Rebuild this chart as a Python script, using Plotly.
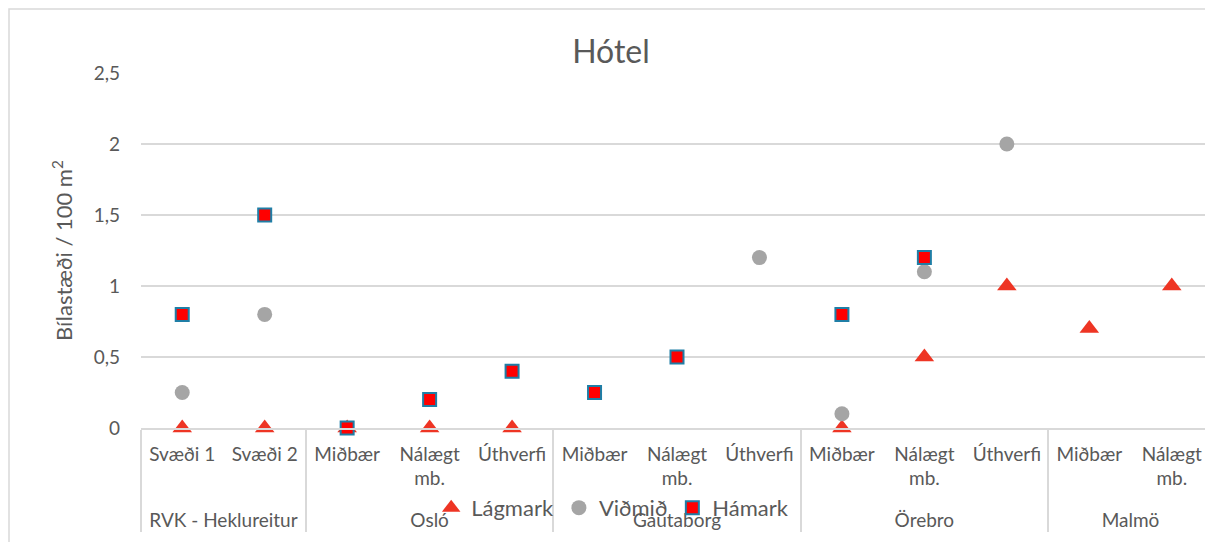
import plotly.graph_objects as go

# categories (outer / inner level)
cities = ["RVK - Heklureitur", "RVK - Heklureitur",
          "Osló", "Osló", "Osló",
          "Gautaborg", "Gautaborg", "Gautaborg",
          "Örebro", "Örebro", "Örebro",
          "Malmö", "Malmö"]
zones = ["Svæði 1", "Svæði 2",
         "Miðbær", "Nálægt<br>mb.", "Úthverfi",
         "Miðbær", "Nálægt<br>mb.", "Úthverfi",
         "Miðbær", "Nálægt<br>mb.", "Úthverfi",
         "Miðbær", "Nálægt<br>mb."]

# series values (bílastæði / 100 m2)
lagmark = [0, 0, 0, 0, 0, None, None, None, 0, 0.5, 1.0, 0.7, 1.0]
vidmid = [0.25, 0.8, None, None, None, None, None, 1.2, 0.1, 1.1, 2.0, None, None]
hamark = [0.8, 1.5, 0, 0.2, 0.4, 0.25, 0.5, None, 0.8, 1.2, None, None, None]

y_ticks = [0, 0.5, 1, 1.5, 2, 2.5]

TEXT = "#595959"
GRID = "#d9d9d9"
FONT = "Lato"

# page body adds 8px offset, so the figure is laid out 8px up/left
OFF = 8

# extra blank line under the inner labels pushes the city row down, as in Excel
x = [cities, [z + "<br> " for z in zones]]

fig = go.Figure()
fig.add_trace(go.Scatter(
    x=x, y=lagmark, name="Lágmark", mode="markers", cliponaxis=False,
    marker=dict(symbol="triangle-up", size=17, color="#ee3524")
))
fig.add_trace(go.Scatter(
    x=x, y=vidmid, name="Viðmið", mode="markers", cliponaxis=False,
    marker=dict(symbol="circle", size=15, color="#a5a5a5")
))
fig.add_trace(go.Scatter(
    x=x, y=hamark, name="Hámark", mode="markers", cliponaxis=False,
    marker=dict(symbol="square", size=13, color="#ff0000",
                line=dict(color="#1f7ea6", width=2))
))

fig.update_layout(
    width=1213, height=542,
    margin=dict(l=141 - OFF, r=OFF, t=73 - OFF, b=542 - 428 + OFF),
    paper_bgcolor="white", plot_bgcolor="white",
    separators=",.",
    font=dict(family=FONT, color=TEXT, size=19),
    title=dict(text="Hótel", font=dict(size=32, color=TEXT),
               xref="container", x=(611 - OFF) / 1213, xanchor="center",
               yref="container", y=1 - (52 - OFF) / 542, yanchor="middle"),
    legend=dict(orientation="h", x=0.44, xanchor="center",
                y=-0.225, yanchor="middle", bgcolor="rgba(0,0,0,0)",
                font=dict(size=22, color=TEXT), traceorder="normal"),
    xaxis=dict(type="multicategory", range=[-0.5, len(zones) - 0.5],
               showgrid=False, showline=True,
               linecolor=GRID, linewidth=1.5, ticks="", automargin=False,
               ticklabelstandoff=8,
               showdividers=True, dividercolor=GRID, dividerwidth=1.5,
               tickfont=dict(size=19, color=TEXT)),
    yaxis=dict(range=[0, 2.5], tickvals=y_ticks, showgrid=True,
               gridcolor=GRID, gridwidth=1.5, zeroline=False, showline=False,
               ticks="", ticklabelstandoff=20, automargin=False,
               tickfont=dict(size=19, color=TEXT),
               title=dict(text="Bílastæði / 100 m<sup>2</sup>",
                          font=dict(size=22, color=TEXT), standoff=14)),
    shapes=[dict(type="rect", xref="paper", yref="paper",
                 x0=-(141 - OFF - 1) / 1072, x1=1.05, y0=-0.6,
                 y1=(428 - OFF - 1) / 355,
                 line=dict(color=GRID, width=1.5), layer="below")],
)

fig.write_html("out.html")
